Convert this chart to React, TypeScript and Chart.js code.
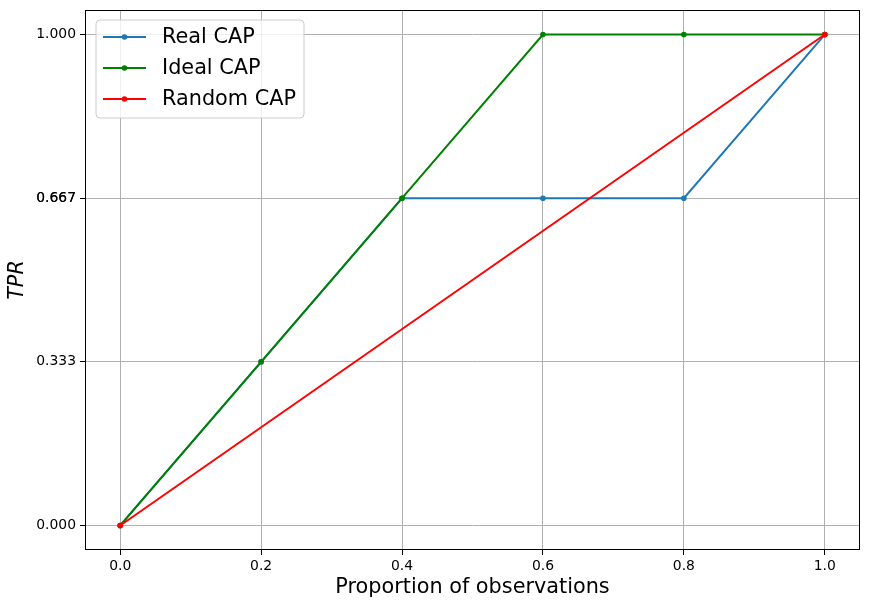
import React, { useEffect, useRef } from "react";
import { Chart, registerables } from "chart.js";

Chart.register(...registerables);

const xValues = [0.0, 0.2, 0.4, 0.6, 0.8, 1.0];
const realCapY = [0.0, 1 / 3, 2 / 3, 2 / 3, 2 / 3, 1.0];
const idealCapY = [0.0, 1 / 3, 2 / 3, 1.0, 1.0, 1.0];
const randomX = [0.0, 1.0];
const randomY = [0.0, 1.0];
const xTicks = [0.0, 0.2, 0.4, 0.6, 0.8, 1.0];
const yTicks = [0.0, 1 / 3, 0.6666, 0.6667, 1.0];
const seriesNames = ["Real CAP", "Ideal CAP", "Random CAP"];
const seriesColors = ["#1f77b4", "#008000", "#ff0000"];

const FONT = "'DejaVu Sans', sans-serif";

const frameAndLegend = {
  id: "frameAndLegend",
  afterDatasetsDraw(chart: any) {
    const { ctx, chartArea } = chart;
    ctx.save();
    ctx.strokeStyle = "#000";
    ctx.lineWidth = 1;
    ctx.strokeRect(
      Math.round(chartArea.left) + 0.5,
      Math.round(chartArea.top) + 0.5,
      Math.round(chartArea.right - chartArea.left) - 1,
      Math.round(chartArea.bottom - chartArea.top) - 1
    );
    // legend
    const lx = 96, ly = 20, lw = 208, lh = 98, r = 4;
    ctx.beginPath();
    ctx.moveTo(lx + r, ly);
    ctx.arcTo(lx + lw, ly, lx + lw, ly + lh, r);
    ctx.arcTo(lx + lw, ly + lh, lx, ly + lh, r);
    ctx.arcTo(lx, ly + lh, lx, ly, r);
    ctx.arcTo(lx, ly, lx + lw, ly, r);
    ctx.closePath();
    ctx.fillStyle = "rgba(255,255,255,0.8)";
    ctx.fill();
    ctx.strokeStyle = "#cccccc";
    ctx.lineWidth = 1;
    ctx.stroke();
    ctx.font = `20.8px ${FONT}`;
    ctx.textBaseline = "middle";
    ctx.textAlign = "left";
    seriesNames.forEach((name, i) => {
      const y = 37 + i * 31;
      ctx.strokeStyle = seriesColors[i];
      ctx.lineWidth = 2;
      ctx.beginPath();
      ctx.moveTo(103, y);
      ctx.lineTo(146, y);
      ctx.stroke();
      ctx.fillStyle = seriesColors[i];
      ctx.beginPath();
      ctx.arc(124.5, y, 2.8, 0, Math.PI * 2);
      ctx.fill();
      ctx.fillStyle = "#000";
      ctx.fillText(name, 162, y + 1);
    });
    ctx.restore();
  },
};

export default function App() {
  const ref = useRef<HTMLCanvasElement>(null);
  useEffect(() => {
    if (!ref.current) return;
    const mk = (xs: number[], ys: number[]) => xs.map((x, i) => ({ x, y: ys[i] }));
    const ds = (i: number, data: any[], order: number) => ({
      label: seriesNames[i],
      data,
      borderColor: seriesColors[i],
      backgroundColor: seriesColors[i],
      borderWidth: 2,
      pointRadius: 2.8,
      pointBorderWidth: 0,
      pointHoverRadius: 2.8,
      tension: 0,
      fill: false,
      order,
    });
    const chart = new Chart(ref.current, {
      type: "line",
      data: {
        datasets: [
          ds(0, mk(xValues, realCapY), 3),
          ds(1, mk(xValues, idealCapY), 2),
          ds(2, mk(randomX, randomY), 1),
        ],
      },
      options: {
        animation: false,
        responsive: false,
        devicePixelRatio: 1,
        layout: { padding: { top: 10, right: 9, left: 0, bottom: 0 } },
        plugins: { legend: { display: false }, tooltip: { enabled: false } },
        scales: {
          x: {
            type: "linear",
            min: -0.05,
            max: 1.05,
            afterBuildTicks: (s: any) => {
              s.ticks = xTicks.map((v) => ({ value: v }));
            },
            afterFit: (s: any) => {
              s.height = 58;
              s.paddingLeft = 0;
              s.paddingRight = 0;
            },
            grid: { color: "#b0b0b0", lineWidth: 1, tickColor: "#000", tickLength: 5 },
            border: { display: false },
            ticks: {
              color: "#000",
              font: { family: FONT, size: 13.9 },
              padding: 3,
              maxRotation: 0,
              callback: (v: any) => Number(v).toFixed(1),
            },
            title: {
              display: true,
              text: "Proportion of observations",
              color: "#000",
              font: { family: FONT, size: 20.8 },
              padding: { top: 0, bottom: 8 },
            },
          },
          y: {
            type: "linear",
            min: -0.05,
            max: 1.05,
            afterBuildTicks: (s: any) => {
              s.ticks = yTicks.map((v) => ({ value: v }));
            },
            afterFit: (s: any) => {
              s.width = 85;
              s.paddingTop = 0;
              s.paddingBottom = 0;
            },
            grid: { color: "#b0b0b0", lineWidth: 1, tickColor: "#000", tickLength: 5 },
            border: { display: false },
            ticks: {
              color: "#000",
              font: { family: FONT, size: 13.9 },
              padding: 4,
              autoSkip: false,
              callback: (v: any) => Number(v).toFixed(3),
            },
            title: {
              display: true,
              text: "TPR",
              color: "#000",
              font: { family: FONT, size: 20.8, style: "italic" },
              padding: { top: 5, bottom: 0 },
            },
          },
        },
      },
      plugins: [frameAndLegend],
    });
    return () => chart.destroy();
  }, []);
  return (
    <div style={{ position: "fixed", left: 0, top: 0, width: 869, height: 608, background: "#fff" }}>
      <canvas ref={ref} width={869} height={608} style={{ display: "block" }} />
    </div>
  );
}
